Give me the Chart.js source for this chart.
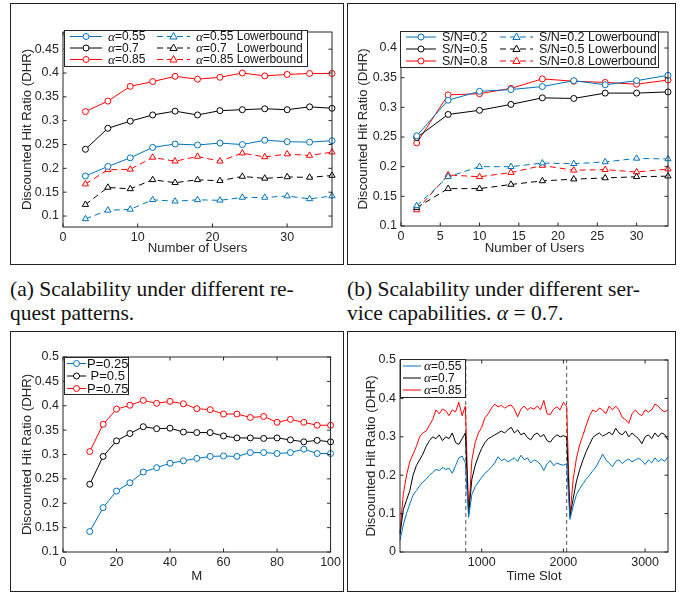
<!DOCTYPE html>
<html>
<head>
<meta charset="utf-8">
<script src="https://cdn.jsdelivr.net/npm/chart.js@4.4.1/dist/chart.umd.min.js"></script>
<style>
  body { margin: 0; width: 686px; height: 593px; background: #fff; position: relative; overflow: hidden; }
  canvas { position: absolute; }
  .frame { position: absolute; box-sizing: border-box; border: 1.5px solid #222; pointer-events: none; }
  .cap { position: absolute; font-family: "Liberation Serif", "Times New Roman", serif; font-size: 21.5px; line-height: 21.5px; color: #111; white-space: nowrap; }
  .just { text-align: justify; text-align-last: justify; }
</style>
</head>
<body>
<canvas id="ca" width="334" height="262" style="left:10px;top:3px"></canvas>
<canvas id="cb" width="329" height="262" style="left:347px;top:3px"></canvas>
<canvas id="cc" width="334" height="261" style="left:10px;top:331px"></canvas>
<canvas id="cd" width="329" height="261" style="left:347px;top:331px"></canvas>
<div class="frame" style="left:10px;top:3px;width:334px;height:262px"></div>
<div class="frame" style="left:347px;top:3px;width:329px;height:262px"></div>
<div class="frame" style="left:10px;top:331px;width:334px;height:261px"></div>
<div class="frame" style="left:347px;top:331px;width:329px;height:261px"></div>
<div class="cap just" style="left:10px;top:279px;width:282px">(a) Scalability under different re-</div>
<div class="cap" style="left:10px;top:303px">quest patterns.</div>
<div class="cap just" style="left:347px;top:279px;width:288px">(b) Scalability under different ser-</div>
<div class="cap" style="left:347px;top:303px">vice capabilities. <i>α</i> = 0.7.</div>
<script>
"use strict";

// (a) request patterns
const usersA = [3, 6, 9, 12, 15, 18, 21, 24, 27, 30, 33, 36]
const a055 = [0.184, 0.204, 0.222, 0.244, 0.251, 0.249, 0.253, 0.250, 0.259, 0.256, 0.255, 0.258]
const a07 = [0.240, 0.284, 0.299, 0.312, 0.320, 0.312, 0.321, 0.323, 0.325, 0.323, 0.329, 0.326]
const a085 = [0.319, 0.341, 0.372, 0.382, 0.393, 0.387, 0.391, 0.400, 0.394, 0.397, 0.399, 0.399]
const a055lb = [0.094, 0.112, 0.114, 0.134, 0.131, 0.134, 0.133, 0.139, 0.139, 0.142, 0.136, 0.142]
const a07lb = [0.124, 0.160, 0.157, 0.176, 0.170, 0.176, 0.174, 0.183, 0.179, 0.182, 0.181, 0.185]
const a085lb = [0.167, 0.197, 0.198, 0.223, 0.215, 0.225, 0.215, 0.232, 0.224, 0.230, 0.227, 0.234]
const xTicksA = [0, 10, 20, 30]
const yTicksA = [0.1, 0.15, 0.2, 0.25, 0.3, 0.35, 0.4, 0.45]

// (b) service capabilities
const usersB = [2, 6, 10, 14, 18, 22, 26, 30, 34]
const sn02 = [0.252, 0.312, 0.327, 0.330, 0.335, 0.345, 0.338, 0.345, 0.354]
const sn05 = [0.249, 0.288, 0.295, 0.305, 0.316, 0.315, 0.324, 0.324, 0.326]
const sn08 = [0.240, 0.321, 0.323, 0.332, 0.348, 0.344, 0.342, 0.339, 0.346]
const sn02lb = [0.134, 0.183, 0.200, 0.200, 0.206, 0.205, 0.208, 0.214, 0.213]
const sn05lb = [0.131, 0.163, 0.163, 0.170, 0.176, 0.179, 0.181, 0.183, 0.184]
const sn08lb = [0.127, 0.186, 0.183, 0.190, 0.202, 0.194, 0.195, 0.191, 0.196]
const xTicksB = [0, 5, 10, 15, 20, 25, 30]
const yTicksB = [0.1, 0.15, 0.2, 0.25, 0.3, 0.35, 0.4]

// (c) M
const mVals = [10, 15, 20, 25, 30, 35, 40, 45, 50, 55, 60, 65, 70, 75, 80, 85, 90, 95, 100]
const p025 = [0.142, 0.191, 0.225, 0.242, 0.264, 0.273, 0.282, 0.287, 0.292, 0.296, 0.297, 0.296, 0.304, 0.304, 0.302, 0.304, 0.311, 0.302, 0.302]
const p05 = [0.239, 0.296, 0.328, 0.343, 0.357, 0.353, 0.354, 0.346, 0.345, 0.345, 0.338, 0.334, 0.334, 0.333, 0.334, 0.330, 0.326, 0.329, 0.326]
const p075 = [0.306, 0.362, 0.393, 0.401, 0.411, 0.405, 0.409, 0.404, 0.394, 0.392, 0.383, 0.383, 0.376, 0.378, 0.366, 0.372, 0.366, 0.360, 0.360]
const xTicksC = [0, 20, 40, 60, 80, 100]
const yTicksC = [0.1, 0.15, 0.2, 0.25, 0.3, 0.35, 0.4, 0.45, 0.5]

// (d) time slots
const slots = [0, 40, 80, 120, 160, 200, 240, 280, 320, 360,
    400, 440, 480, 520, 560, 600, 640, 680, 720, 760,
    800, 840, 880, 920, 960, 1000, 1040, 1080, 1120, 1160,
    1200, 1240, 1280, 1320, 1360, 1400, 1440, 1480, 1520, 1560,
    1600, 1640, 1680, 1720, 1760, 1800, 1840, 1880, 1920, 1960,
    2000, 2040, 2080, 2120, 2160, 2200, 2240, 2280, 2320, 2360,
    2400, 2440, 2480, 2520, 2560, 2600, 2640, 2680, 2720, 2760,
    2800, 2840, 2880, 2920, 2960, 3000, 3040, 3080, 3120, 3160,
    3200, 3240, 3280]
const t085 = [0.05, 0.15, 0.2, 0.235, 0.255, 0.275, 0.3, 0.31, 0.315, 0.33,
    0.345, 0.37, 0.36, 0.372, 0.368, 0.355, 0.37, 0.365, 0.39, 0.355,
    0.38, 0.1, 0.24, 0.285, 0.31, 0.325, 0.35, 0.36, 0.375, 0.385,
    0.378, 0.382, 0.375, 0.38, 0.383, 0.372, 0.352, 0.372, 0.38, 0.37,
    0.376, 0.372, 0.38, 0.37, 0.395, 0.36, 0.358, 0.372, 0.378, 0.37,
    0.39, 0.378, 0.095, 0.19, 0.245, 0.28, 0.305, 0.33, 0.355, 0.37,
    0.365, 0.375, 0.37, 0.36, 0.38, 0.37, 0.38, 0.37, 0.35, 0.345,
    0.335, 0.36, 0.37, 0.36, 0.355, 0.37, 0.365, 0.37, 0.385, 0.38,
    0.37, 0.365, 0.37]
const t07 = [0.045, 0.11, 0.135, 0.16, 0.2, 0.225, 0.24, 0.255, 0.275, 0.29,
    0.3, 0.295, 0.305, 0.29, 0.3, 0.295, 0.31, 0.285, 0.28, 0.295,
    0.31, 0.1, 0.19, 0.225, 0.25, 0.27, 0.285, 0.295, 0.3, 0.305,
    0.31, 0.315, 0.31, 0.318, 0.325, 0.31, 0.318, 0.305, 0.31, 0.298,
    0.292, 0.305, 0.31, 0.3, 0.306, 0.29, 0.286, 0.298, 0.305, 0.3,
    0.303, 0.3, 0.092, 0.14, 0.185, 0.215, 0.24, 0.262, 0.28, 0.298,
    0.305, 0.31, 0.302, 0.306, 0.312, 0.305, 0.322, 0.31, 0.305, 0.315,
    0.3, 0.31, 0.302, 0.295, 0.282, 0.3, 0.305, 0.295, 0.31, 0.3,
    0.31, 0.306, 0.292]
const t055 = [0.03, 0.07, 0.1, 0.125, 0.148, 0.16, 0.172, 0.182, 0.19, 0.2,
    0.207, 0.215, 0.212, 0.22, 0.215, 0.218, 0.205, 0.225, 0.245, 0.25,
    0.232, 0.09, 0.15, 0.17, 0.182, 0.195, 0.205, 0.212, 0.222, 0.232,
    0.248, 0.238, 0.242, 0.235, 0.24, 0.245, 0.236, 0.252, 0.24, 0.245,
    0.232, 0.24, 0.236, 0.228, 0.212, 0.23, 0.238, 0.225, 0.232, 0.228,
    0.226, 0.23, 0.085, 0.12, 0.15, 0.165, 0.178, 0.19, 0.2, 0.212,
    0.222, 0.238, 0.255, 0.24, 0.232, 0.222, 0.236, 0.24, 0.23, 0.238,
    0.242, 0.235, 0.24, 0.244, 0.238, 0.228, 0.24, 0.232, 0.245, 0.235,
    0.242, 0.236, 0.248]
const epochBreaks = [805, 2040]
const xTicksD = [1000, 2000, 3000]
const yTicksD = [0, 0.1, 0.2, 0.3, 0.4, 0.5]

const BLUE = "#0072BD", BLACK = "#000000", RED = "#FF0000", AXIS = "#262626"
const SANS = "'Liberation Sans', Arial, Helvetica, sans-serif"

const pts = (xs, ys) => xs.map((x, i) => ({x: x, y: ys[i]}))

function series(label, xs, ys, color, dashed, marker) {
    return {
        label: label,
        data: pts(xs, ys),
        borderColor: color,
        borderWidth: 1,
        borderDash: dashed ? [6, 4] : [],
        pointStyle: marker || "circle",
        pointRadius: marker === false ? 0 : (marker === "triangle" ? 3.6 : 3),
        pointBorderWidth: 1,
        pointBorderColor: color,
        pointBackgroundColor: "#fff",
        tension: 0,
        clip: false
    }
}

// box round the plot area with inward ticks on all four sides
const boxAxes = {
    id: "boxAxes",
    afterDatasetsDraw(chart) {
        const ctx = chart.ctx, a = chart.chartArea
        const x = chart.scales.x, y = chart.scales.y
        ctx.save()
        ctx.strokeStyle = AXIS
        ctx.lineWidth = 1
        ctx.setLineDash([])
        ctx.strokeRect(a.left, a.top, a.right - a.left, a.bottom - a.top)
        const t = 3.5
        ctx.beginPath()
        x.ticks.forEach(tk => {
            const px = x.getPixelForValue(tk.value)
            ctx.moveTo(px, a.bottom); ctx.lineTo(px, a.bottom - t)
            ctx.moveTo(px, a.top); ctx.lineTo(px, a.top + t)
        })
        y.ticks.forEach(tk => {
            const py = y.getPixelForValue(tk.value)
            ctx.moveTo(a.left, py); ctx.lineTo(a.left + t, py)
            ctx.moveTo(a.right, py); ctx.lineTo(a.right - t, py)
        })
        ctx.stroke()
        ctx.restore()
    }
}

function drawLabel(ctx, text, x, y, size) {
    // alpha in italic serif, the rest in sans
    let cx = x
    for (const part of text.split(/(α)/)) {
        if (!part) continue
        ctx.font = part === "α" ? "italic " + (size * 1.12) + "px 'Liberation Serif', serif" : size + "px " + SANS
        ctx.fillText(part, cx, y)
        cx += ctx.measureText(part).width
    }
}

function boxLegend(L) {
    return {
        id: "boxLegend",
        afterDraw(chart) {
            const ctx = chart.ctx
            ctx.save()
            ctx.fillStyle = "#fff"
            ctx.strokeStyle = AXIS
            ctx.lineWidth = 1
            ctx.fillRect(L.box[0], L.box[1], L.box[2], L.box[3])
            ctx.strokeRect(L.box[0] + 0.5, L.box[1] + 0.5, L.box[2], L.box[3])
            L.items.forEach(it => {
                const ds = chart.data.datasets[it[0]]
                const lx = it[1], ly = it[2], len = it[3]
                ctx.strokeStyle = ds.borderColor
                ctx.lineWidth = 1
                ctx.setLineDash(ds.borderDash)
                ctx.beginPath(); ctx.moveTo(lx, ly); ctx.lineTo(lx + len, ly); ctx.stroke()
                ctx.setLineDash([])
                if (ds.pointRadius > 0) {
                    const cx = lx + len / 2, r = ds.pointRadius
                    ctx.fillStyle = "#fff"
                    ctx.beginPath()
                    if (ds.pointStyle === "triangle") {
                        ctx.moveTo(cx, ly - r * 1.1); ctx.lineTo(cx + r, ly + r * 0.7); ctx.lineTo(cx - r, ly + r * 0.7); ctx.closePath()
                    } else {
                        ctx.arc(cx, ly, r, 0, Math.PI * 2)
                    }
                    ctx.fill(); ctx.stroke()
                }
                ctx.fillStyle = "#111"
                ctx.textBaseline = "middle"
                drawLabel(ctx, ds.label, lx + len + L.gap, ly + 0.5, L.size)
            })
            ctx.restore()
        }
    }
}

function fmt(v) { return String(Math.round(v * 1000) / 1000) }

function makeChart(id, datasets, ax, legend) {
    const tickFont = {family: SANS, size: 12.5}
    const titleFont = {family: SANS, size: 13.2, lineHeight: 1.2}
    return new Chart(document.getElementById(id), {
        type: "line",
        data: {datasets: datasets},
        options: {
            responsive: false,
            animation: false,
            devicePixelRatio: 1,
            layout: {padding: {top: ax.top, right: ax.right, left: 0, bottom: 0}},
            plugins: {legend: {display: false}, tooltip: {enabled: false}},
            scales: {
                x: {
                    type: "linear", min: ax.xmin, max: ax.xmax,
                    grid: {display: false, drawTicks: false}, border: {display: false},
                    afterBuildTicks: s => { s.ticks = ax.xticks.map(v => ({value: v})) },
                    afterFit: s => { s.height = ax.xh },
                    ticks: {font: tickFont, color: AXIS, padding: 3, maxRotation: 0, callback: v => String(v)},
                    title: {display: true, text: ax.xlabel, font: titleFont, color: AXIS, padding: {top: 0, bottom: ax.xtp}}
                },
                y: {
                    type: "linear", min: ax.ymin, max: ax.ymax,
                    grid: {display: false, drawTicks: false}, border: {display: false},
                    afterBuildTicks: s => { s.ticks = ax.yticks.map(v => ({value: v})) },
                    afterFit: s => { s.width = ax.yw },
                    ticks: {font: tickFont, color: AXIS, padding: 4, callback: v => fmt(v)},
                    title: {display: true, text: "Discounted Hit Ratio (DHR)", font: titleFont, color: AXIS, padding: {top: ax.ytp, bottom: 0}}
                }
            }
        },
        plugins: [boxAxes, boxLegend(legend)]
    })
}

makeChart("ca", [
    series("α=0.55", usersA, a055, BLUE),
    series("α=0.7", usersA, a07, BLACK),
    series("α=0.85", usersA, a085, RED),
    series("α=0.55 Lowerbound", usersA, a055lb, BLUE, true, "triangle"),
    series("α=0.7   Lowerbound", usersA, a07lb, BLACK, true, "triangle"),
    series("α=0.85 Lowerbound", usersA, a085lb, RED, true, "triangle")
], {top: 29, right: 12, xh: 38, yw: 53, xmin: 0, xmax: 36, ymin: 0.077, ymax: 0.486,
    xticks: xTicksA, yticks: yTicksA, xlabel: "Number of Users", xtp: 9, ytp: 9},
{box: [54, 27, 243, 36], gap: 6, size: 12, items: [
    [0, 60, 33.5, 32], [1, 60, 45, 32], [2, 60, 56.5, 32],
    [3, 147, 33.5, 33], [4, 147, 45, 33], [5, 147, 56.5, 33]]})

makeChart("cb", [
    series("S/N=0.2", usersB, sn02, BLUE),
    series("S/N=0.5", usersB, sn05, BLACK),
    series("S/N=0.8", usersB, sn08, RED),
    series("S/N=0.2 Lowerbound", usersB, sn02lb, BLUE, true, "triangle"),
    series("S/N=0.5 Lowerbound", usersB, sn05lb, BLACK, true, "triangle"),
    series("S/N=0.8 Lowerbound", usersB, sn08lb, RED, true, "triangle")
], {top: 29, right: 8, xh: 39, yw: 54, xmin: 0, xmax: 34, ymin: 0.1, ymax: 0.427,
    xticks: xTicksB, yticks: yTicksB, xlabel: "Number of Users", xtp: 9, ytp: 8},
{box: [53, 28, 258, 36], gap: 6, size: 12.5, items: [
    [0, 59, 34, 30], [1, 59, 46, 30], [2, 59, 58, 30],
    [3, 153, 34, 33], [4, 153, 46, 33], [5, 153, 58, 33]]})

makeChart("cc", [
    series("P=0.25", mVals, p025, BLUE),
    series(" P=0.5", mVals, p05, BLACK),
    series("P=0.75", mVals, p075, RED)
], {top: 26, right: 12, xh: 40, yw: 53, xmin: 0, xmax: 100, ymin: 0.1, ymax: 0.5,
    xticks: xTicksC, yticks: yTicksC, xlabel: "M", xtp: 8, ytp: 9},
{box: [54, 26, 64, 37], gap: 1, size: 13, items: [
    [0, 57, 32.5, 19], [1, 57, 45, 19], [2, 57, 57.5, 19]]})

const breakSets = epochBreaks.map(b => ({
    label: "", data: [{x: b, y: 0}, {x: b, y: 0.5}],
    borderColor: "#555", borderWidth: 1, borderDash: [4, 3], pointRadius: 0
}))

makeChart("cd", [
    series("α=0.55", slots, t055, BLUE, false, false),
    series("α=0.7", slots, t07, BLACK, false, false),
    series("α=0.85", slots, t085, RED, false, false)
].concat(breakSets), {top: 29, right: 8, xh: 40, yw: 53, xmin: 0, xmax: 3280, ymin: 0, ymax: 0.5,
    xticks: xTicksD, yticks: yTicksD, xlabel: "Time Slot", xtp: 8, ytp: 16},
{box: [53, 28, 65, 38], gap: 3, size: 12, items: [
    [0, 56, 35, 18], [1, 56, 47, 18], [2, 56, 59, 18]]})
</script>
</body>
</html>
